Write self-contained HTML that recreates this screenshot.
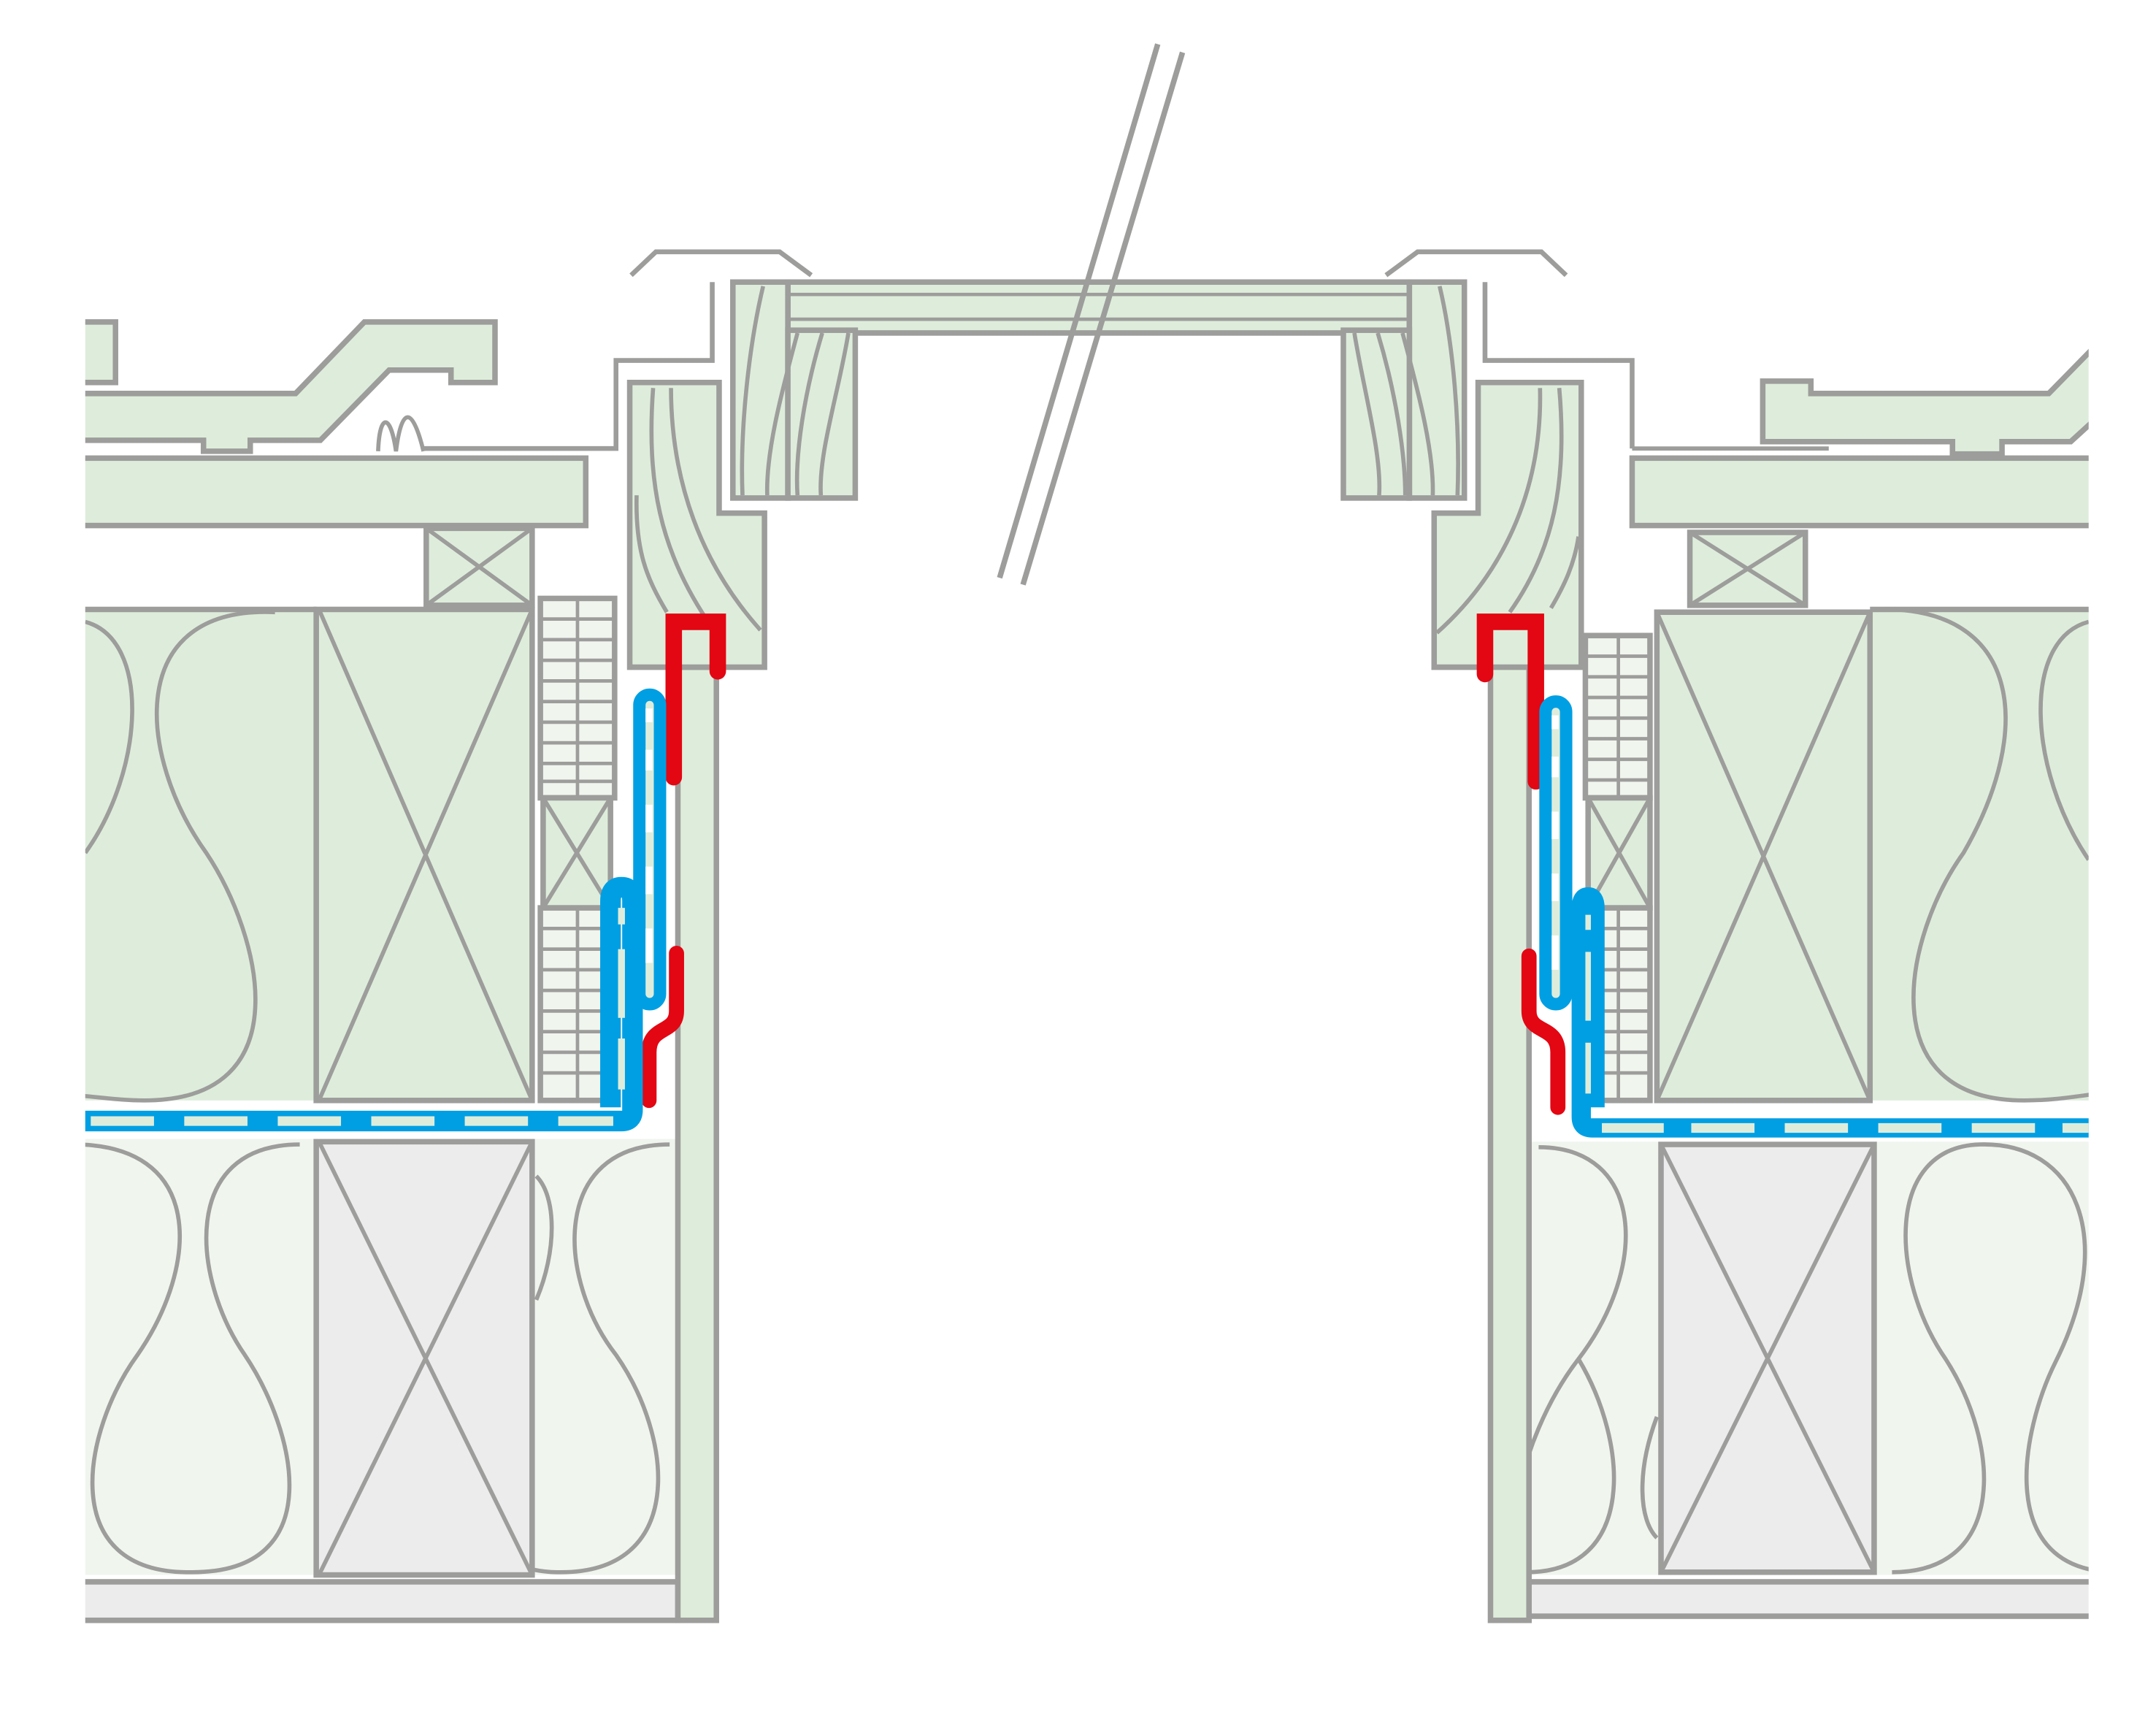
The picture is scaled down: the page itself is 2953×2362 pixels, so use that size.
<!DOCTYPE html>
<html><head><meta charset="utf-8"><style>html,body{margin:0;padding:0;background:#fff}svg{display:block}</style></head>
<body>
<svg width="2953" height="2362" viewBox="0 0 1568 1254" xmlns="http://www.w3.org/2000/svg">
<defs>
<clipPath id="c"><rect x="62" y="0" width="1457" height="1254"/></clipPath>
</defs>
<g stroke="#9d9d9c" fill="#deeddb">
  <rect x="573" y="205" width="452" height="37" stroke-width="4"/>
  <path d="M573,214 H1025 M573,232 H1025" stroke-width="2.5"/>
</g>
<g clip-path="url(#c)" stroke="#9d9d9c" stroke-width="4" fill="#deeddb">
  <!-- ===== LEFT ===== -->
  <rect x="40" y="234" width="44" height="44"/>
  <polygon points="40,286 215,286 265,234 360,234 360,278 328,278 328,269 283,269 233,320 182,320 182,328 148,328 148,320 40,320"/>
  <path d="M275,328 C276,300 284,300 288,328 C292,295 300,295 308,328" fill="none" stroke-width="3"/>
  <path d="M308,326 L448,326 L448,262 L518,262 L518,205" fill="none" stroke-width="3.5"/>
  <rect x="40" y="333" width="386" height="49"/>
  <rect x="310" y="384" width="77" height="56"/>
  <path d="M310,384 L387,440 M387,384 L310,440" fill="none" stroke-width="3"/>
  <rect x="40" y="443" width="190" height="357" stroke="none"/>
  <path d="M40,443 L230,443" fill="none"/>
  <rect x="230" y="443" width="157" height="357"/>
  <path d="M232,443 L387,800 M387,443 L232,800" fill="none" stroke-width="3"/>
  <path d="M62,452 C110,465 105,560 62,620" fill="none" stroke-width="3"/>
  <path d="M200,445 C90,440 100,550 150,620 C190,680 220,800 105,800 C85,800 70,797 40,795" fill="none" stroke-width="3"/>
  <rect x="393" y="435" width="54" height="145" fill="#f0f5ee"/>
  <path d="M420,435 V580 M393,450 H447 M393,465 H447 M393,480 H447 M393,495 H447 M393,510 H447 M393,525 H447 M393,540 H447 M393,555 H447 M393,568 H447" stroke-width="2.5" fill="none"/>
  <rect x="395" y="580" width="49" height="80"/>
  <path d="M395,580 L444,660 M444,580 L395,660" fill="none" stroke-width="3"/>
  <rect x="393" y="660" width="54" height="140" fill="#f0f5ee"/>
  <path d="M420,660 V800 M393,675 H447 M393,690 H447 M393,705 H447 M393,720 H447 M393,735 H447 M393,750 H447 M393,765 H447 M393,780 H447" stroke-width="2.5" fill="none"/>
  <rect x="40" y="828" width="453" height="317" fill="#f0f5ee" stroke="none"/>
  <rect x="230" y="830" width="157" height="315" fill="#ececec"/>
  <path d="M232,830 L387,1145 M387,830 L232,1145" fill="none" stroke-width="3"/>
  <path d="M50,832 C150,830 145,920 100,985 C60,1040 40,1145 140,1143 C240,1143 215,1040 178,985 C140,930 130,832 218,832" fill="none" stroke-width="3"/>
  <path d="M487,832 C400,832 405,930 448,985 C490,1045 500,1145 405,1143 C398,1143 392,1142 387,1141" fill="none" stroke-width="3"/>
  <path d="M390,855 C405,870 405,910 390,945" fill="none" stroke-width="3"/>
  <rect x="40" y="1150" width="453" height="28" fill="#ececec"/>
  <rect x="493" y="485" width="28" height="693"/>
  <polygon points="458,278 523,278 523,373 556,373 556,485 458,485"/>
  <path d="M475,282 C470,350 480,400 515,452 M488,282 C488,350 510,410 553,458 M463,360 C462,400 470,420 485,445" fill="none" stroke-width="3"/>
  <rect x="533" y="205" width="40" height="157"/>
  <rect x="573" y="240" width="49" height="122"/>
  <path d="M555,208 C545,250 538,310 540,360 M580,242 C567,290 557,330 558,360 M598,242 C585,285 578,330 580,360 M617,242 C610,285 595,330 597,360" fill="none" stroke-width="3"/>
  <path d="M459,200 L477,183 L567,183 L590,200" fill="none" stroke-width="3.5"/>
  <path d="M490,565 L490,452 L522,452 L522,488" fill="none" stroke="#e30613" stroke-width="12" stroke-linecap="round"/>
  <path d="M492,693 L492,735 C492,752 472,745 472,765 L472,800" fill="none" stroke="#e30613" stroke-width="11" stroke-linecap="round"/>
  <path d="M40,815 L452,815 Q460,815 460,807 L460,655 Q460,645 452,645 Q444,645 444,655 L444,805" fill="none" stroke="#009fe3" stroke-width="15"/>
  <path d="M66,815 H112 M134,815 H180 M202,815 H248 M270,815 H316 M338,815 H384 M406,815 H446" stroke="#deeddb" stroke-width="7"/>
  <path d="M452,660 V672 M452,690 V740 M452,755 V792" stroke="#deeddb" stroke-width="5"/>
  <rect x="465" y="505" width="15" height="225" rx="7.5" fill="#deeddb" stroke="#009fe3" stroke-width="9"/>
  <path d="M472,515 V525 M472,545 V560 M472,585 V605 M472,630 V650 M472,675 V700" stroke="#fff" stroke-width="5"/>

  <!-- ===== RIGHT ===== -->
  <polygon points="1540,235 1490,286 1317,286 1317,277 1282,277 1282,321 1420,321 1420,330 1456,330 1456,321 1506,321 1540,290"/>
  <path d="M1187,326 L1330,326" fill="none" stroke-width="3"/>
  <path d="M1080,205 L1080,262 L1187,262 L1187,326" fill="none" stroke-width="3.5"/>
  <rect x="1187" y="333" width="360" height="49"/>
  <rect x="1229" y="387" width="84" height="53"/>
  <path d="M1229,387 L1313,440 M1313,387 L1229,440" fill="none" stroke-width="3"/>
  <rect x="1360" y="443" width="190" height="357" stroke="none"/>
  <path d="M1360,443 L1550,443" fill="none"/>
  <rect x="1205" y="445" width="155" height="355"/>
  <path d="M1205,445 L1360,800 M1360,445 L1205,800" fill="none" stroke-width="3"/>
  <path d="M1365,443 C1470,440 1480,530 1428,620 C1385,680 1360,800 1472,800 C1495,800 1510,797 1540,793" fill="none" stroke-width="3"/>
  <path d="M1519,452 C1470,465 1475,560 1519,625" fill="none" stroke-width="3"/>
  <rect x="1153" y="462" width="47" height="118" fill="#f0f5ee"/>
  <path d="M1177,462 V580 M1153,477 H1200 M1153,492 H1200 M1153,507 H1200 M1153,522 H1200 M1153,537 H1200 M1153,552 H1200 M1153,567 H1200" stroke-width="2.5" fill="none"/>
  <rect x="1155" y="580" width="45" height="80"/>
  <path d="M1155,580 L1200,660 M1200,580 L1155,660" fill="none" stroke-width="3"/>
  <rect x="1153" y="660" width="47" height="140" fill="#f0f5ee"/>
  <path d="M1177,660 V800 M1153,675 H1200 M1153,690 H1200 M1153,705 H1200 M1153,720 H1200 M1153,735 H1200 M1153,750 H1200 M1153,765 H1200 M1153,780 H1200" stroke-width="2.5" fill="none"/>
  <rect x="1112" y="830" width="440" height="315" fill="#f0f5ee" stroke="none"/>
  <rect x="1208" y="832" width="155" height="311" fill="#ececec"/>
  <path d="M1208,832 L1363,1143 M1363,832 L1208,1143" fill="none" stroke-width="3"/>
  <path d="M1119,834 C1195,834 1200,920 1148,988 C1100,1050 1090,1143 1110,1143 M1110,1143 C1190,1143 1185,1050 1148,988" fill="none" stroke-width="3"/>
  <path d="M1376,1143 C1460,1143 1455,1050 1415,988 C1375,930 1370,834 1440,832 C1510,830 1540,900 1495,990 C1470,1040 1450,1143 1540,1143" fill="none" stroke-width="3"/>
  <path d="M1205,1030 C1190,1070 1192,1105 1205,1118" fill="none" stroke-width="3"/>
  <rect x="1112" y="1150" width="440" height="25" fill="#ececec"/>
  <rect x="1084" y="445" width="28" height="733"/>
  <polygon points="1075,278 1150,278 1150,485 1043,485 1043,373 1075,373"/>
  <path d="M1120,282 C1122,360 1090,420 1045,460 M1134,282 C1140,350 1130,400 1098,445 M1148,390 C1145,410 1138,425 1128,442" fill="none" stroke-width="3"/>
  <rect x="1025" y="205" width="40" height="157"/>
  <rect x="977" y="240" width="48" height="122"/>
  <path d="M1047,208 C1057,250 1062,310 1060,360 M1020,242 C1033,290 1043,330 1042,360 M1002,242 C1015,285 1022,330 1022,360 M985,242 C992,285 1005,330 1003,360" fill="none" stroke-width="3"/>
  <path d="M1008,200 L1031,183 L1121,183 L1139,200" fill="none" stroke-width="3.5"/>
  <path d="M1080,490 L1080,452 L1117,452 L1117,568" fill="none" stroke="#e30613" stroke-width="12" stroke-linecap="round"/>
  <path d="M1112,695 L1112,735 C1112,752 1133,745 1133,765 L1133,805" fill="none" stroke="#e30613" stroke-width="11" stroke-linecap="round"/>
  <path d="M1550,820 L1158,820 Q1150,820 1150,812 L1150,660 Q1150,652 1155,652 Q1160,652 1160,660 L1160,805" fill="none" stroke="#009fe3" stroke-width="14"/>
  <path d="M1165,820 H1210 M1230,820 H1276 M1298,820 H1344 M1366,820 H1412 M1434,820 H1480 M1500,820 H1546" stroke="#deeddb" stroke-width="7"/>
  <path d="M1155,665 V676 M1155,692 V742 M1155,758 V795" stroke="#deeddb" stroke-width="4"/>
  <rect x="1124" y="510" width="15" height="220" rx="7.5" fill="#deeddb" stroke="#009fe3" stroke-width="9"/>
  <path d="M1131,520 V530 M1131,550 V565 M1131,590 V610 M1131,635 V655 M1131,680 V705" stroke="#fff" stroke-width="5"/>
</g>
<path d="M727,420 L842,32 M744,425 L860,38" stroke="#9d9d9c" stroke-width="4" fill="none"/>
</svg>
</body></html>
